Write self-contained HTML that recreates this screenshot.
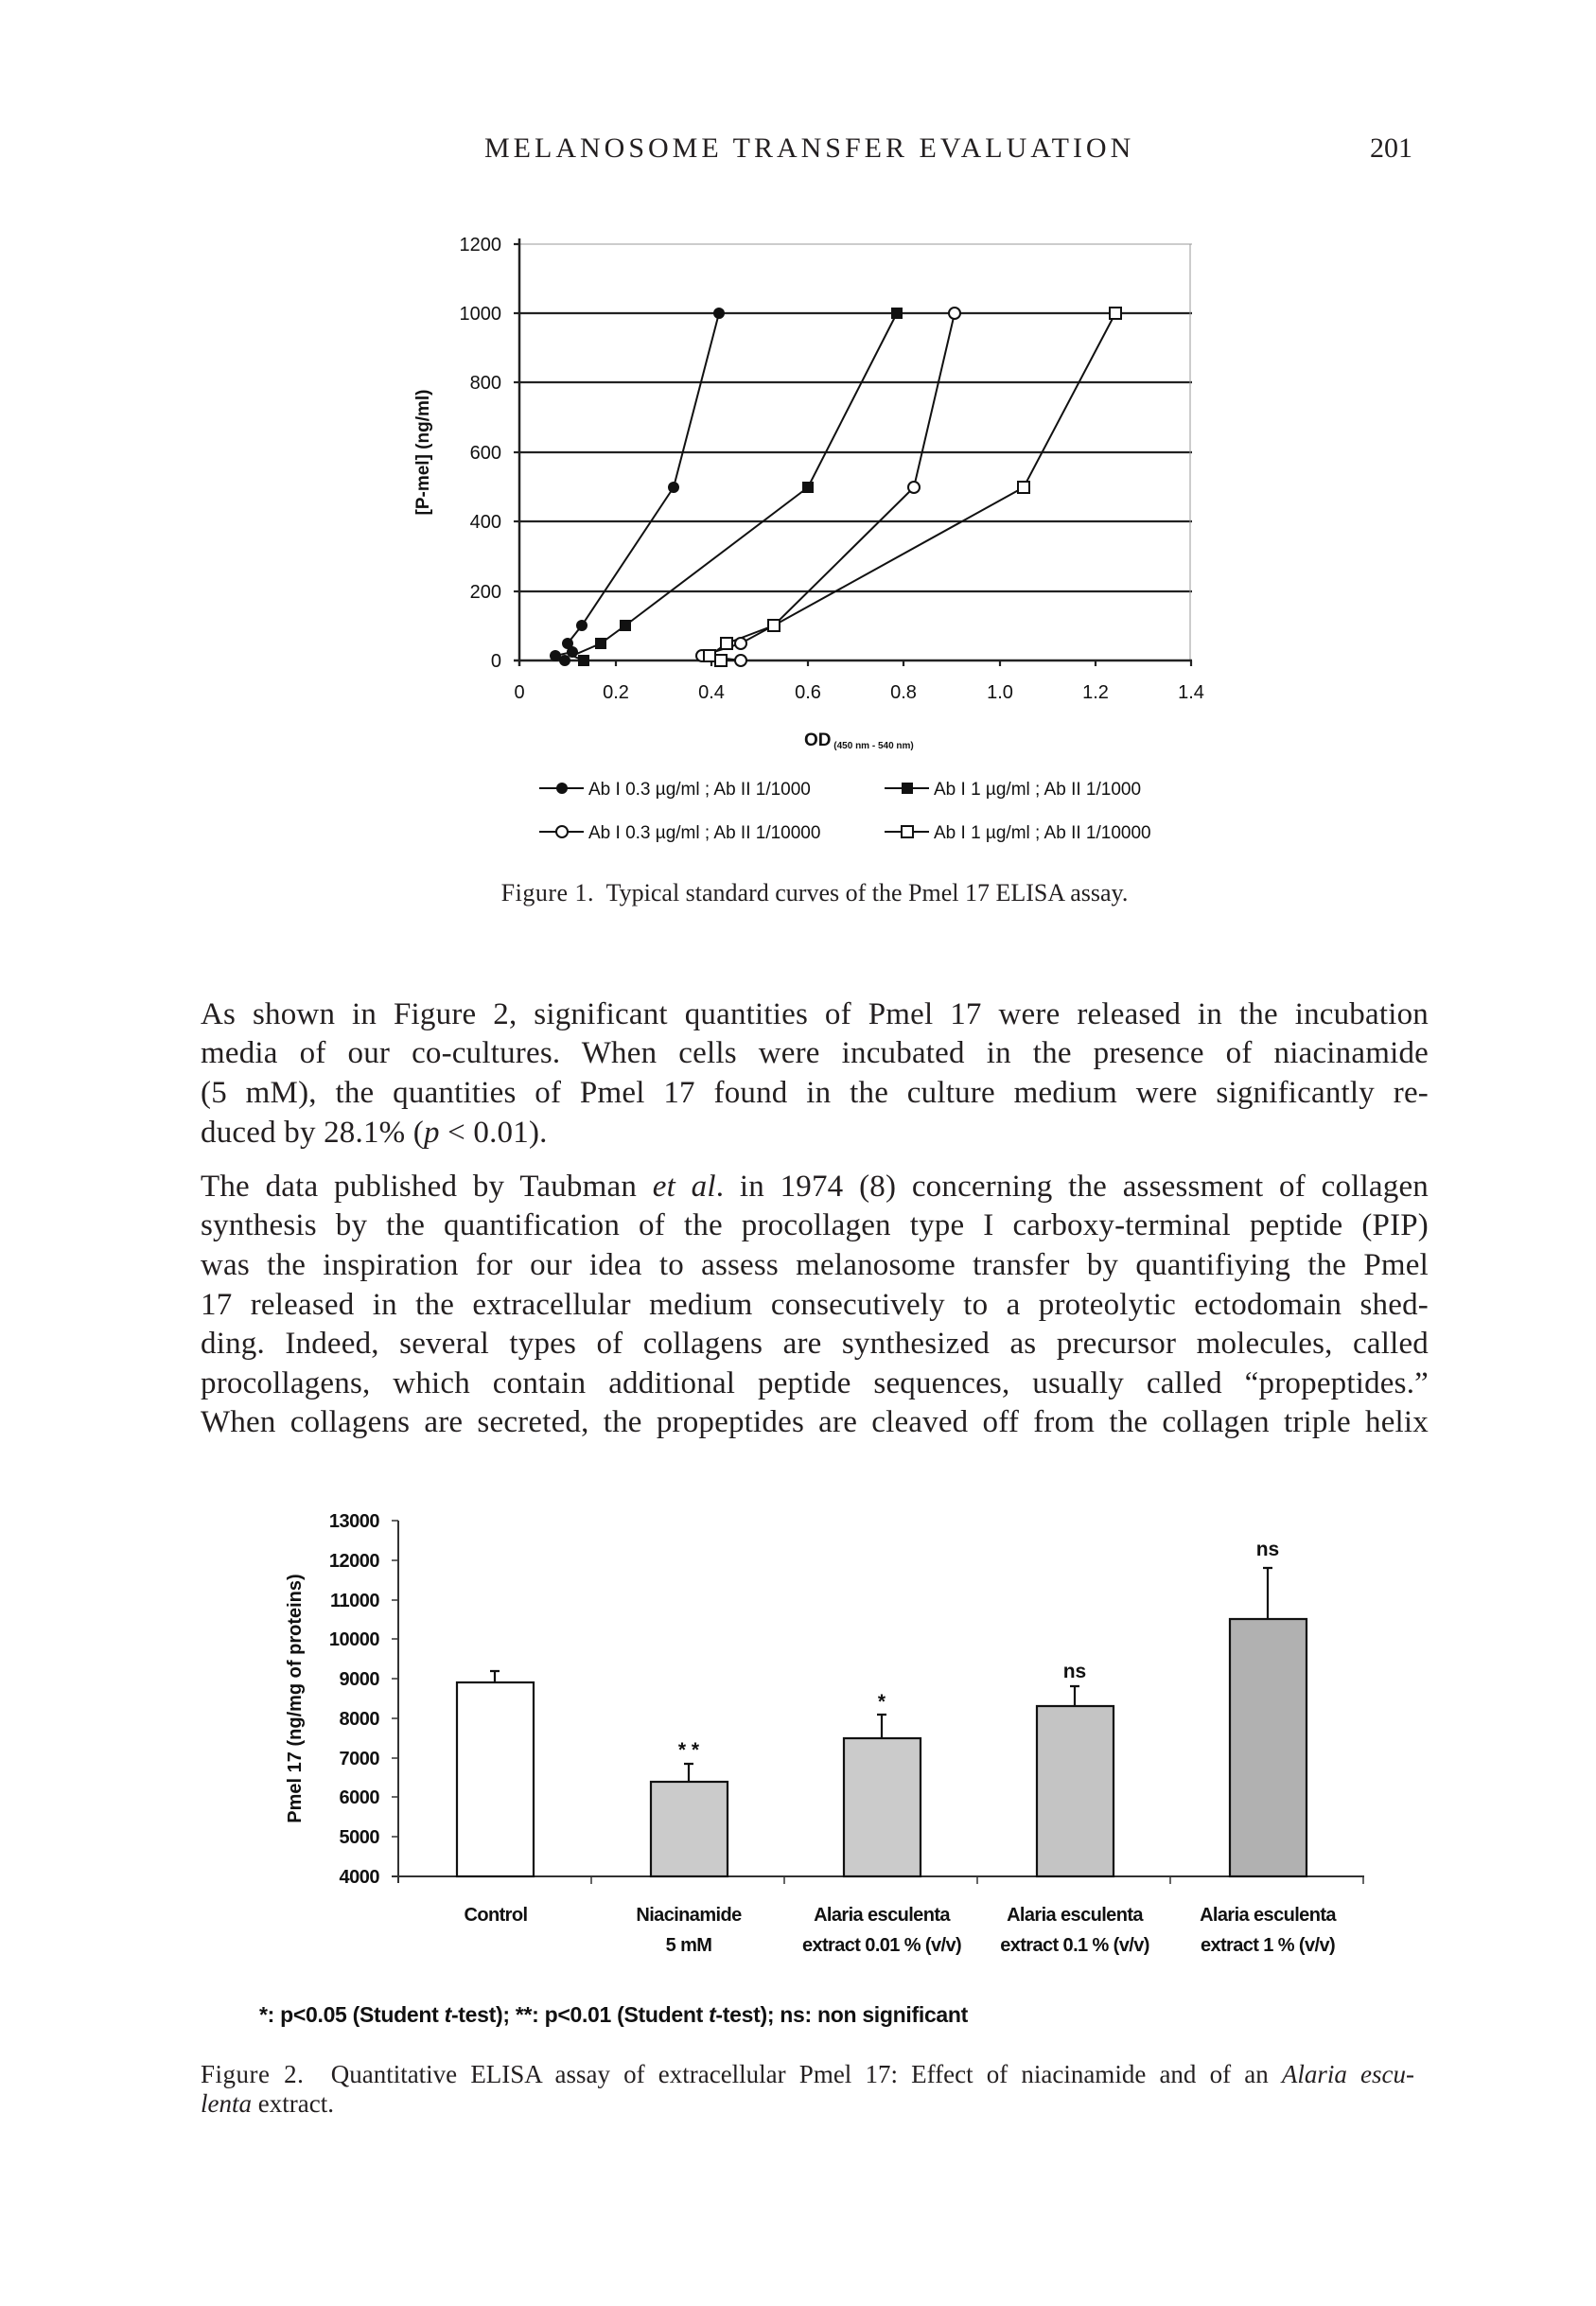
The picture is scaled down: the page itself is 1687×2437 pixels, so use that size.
<!DOCTYPE html>
<html><head><meta charset="utf-8">
<style>
html,body{margin:0;padding:0;background:#fff;}
body{width:1687px;height:2437px;position:relative;overflow:hidden;font-family:"Liberation Serif",serif;color:#231f20;}
.a{position:absolute;white-space:nowrap;}
.ln{position:absolute;left:212px;width:1298px;font-size:33px;line-height:42px;height:42px;text-align:justify;text-align-last:justify;white-space:nowrap;overflow:visible;letter-spacing:0.2px;}
.ln.l{text-align-last:left;}
</style></head><body>

<div class="a" style="left:512px;top:137px;font-size:30px;line-height:40px;letter-spacing:4px;">MELANOSOME TRANSFER EVALUATION</div>
<div class="a" style="left:1448px;top:137px;font-size:30px;line-height:40px;">201</div>

<svg class="a" style="left:0;top:0" width="1687" height="1000" font-family="Liberation Sans, sans-serif">
  <g stroke="#222" stroke-width="2.2">
    <line x1="549" y1="258" x2="1260" y2="258" stroke="#999" stroke-width="1"/>
    <line x1="549" y1="331" x2="1260" y2="331"/>
    <line x1="549" y1="404" x2="1260" y2="404"/>
    <line x1="549" y1="478" x2="1260" y2="478"/>
    <line x1="549" y1="551" x2="1260" y2="551"/>
    <line x1="549" y1="625" x2="1260" y2="625"/>
    <line x1="1258" y1="258" x2="1258" y2="698" stroke="#999" stroke-width="1"/>
    <line x1="549" y1="252" x2="549" y2="704" stroke-width="2.5"/>
    <line x1="543" y1="698" x2="1260" y2="698" stroke-width="2.5"/>
    <line x1="543" y1="258" x2="549" y2="258"/><line x1="543" y1="331" x2="549" y2="331"/><line x1="543" y1="404" x2="549" y2="404"/><line x1="543" y1="478" x2="549" y2="478"/><line x1="543" y1="551" x2="549" y2="551"/><line x1="543" y1="625" x2="549" y2="625"/>
    <line x1="651" y1="698" x2="651" y2="704"/><line x1="752" y1="698" x2="752" y2="704"/><line x1="854" y1="698" x2="854" y2="704"/><line x1="955" y1="698" x2="955" y2="704"/><line x1="1057" y1="698" x2="1057" y2="704"/><line x1="1158" y1="698" x2="1158" y2="704"/><line x1="1259" y1="698" x2="1259" y2="704"/>
  </g>
  <g font-size="20" fill="#111" text-anchor="end">
    <text x="530" y="265">1200</text><text x="530" y="338">1000</text><text x="530" y="411">800</text><text x="530" y="485">600</text><text x="530" y="558">400</text><text x="530" y="632">200</text><text x="530" y="705">0</text>
  </g>
  <g font-size="20" fill="#111" text-anchor="middle">
    <text x="549" y="738">0</text><text x="651" y="738">0.2</text><text x="752" y="738">0.4</text><text x="854" y="738">0.6</text><text x="955" y="738">0.8</text><text x="1057" y="738">1.0</text><text x="1158" y="738">1.2</text><text x="1259" y="738">1.4</text>
  </g>
  <text x="453" y="478" font-size="19" font-weight="bold" fill="#111" text-anchor="middle" transform="rotate(-90 453 478)">[P-mel] (ng/ml)</text>
  <text x="850" y="788" font-size="19" font-weight="bold" fill="#111">OD<tspan font-size="10" dy="3"> (450 nm - 540 nm)</tspan></text>
  <g fill="none" stroke="#111" stroke-width="2">
    <polyline points="597,698 587,693 605,689 600,680 615,661 712,515 760,331"/>
    <polyline points="617,698 605,693 635,680 661,661 854,515 948,331"/>
    <polyline points="783,698 742,693 783,680 818,661 966,515 1009,331"/>
    <polyline points="762,698 750,693 768,680 818,661 1082,515 1179,331"/>
  </g>
  <g fill="#111">
    <circle cx="587" cy="693" r="6"/><circle cx="597" cy="698" r="6"/><circle cx="605" cy="689" r="6"/><circle cx="600" cy="680" r="6"/><circle cx="615" cy="661" r="6"/><circle cx="712" cy="515" r="6"/><circle cx="760" cy="331" r="6"/>
    <rect x="611" y="692" width="12" height="12"/><rect x="629" y="674" width="12" height="12"/><rect x="655" y="655" width="12" height="12"/><rect x="848" y="509" width="12" height="12"/><rect x="942" y="325" width="12" height="12"/>
  </g>
  <g fill="#fff" stroke="#111" stroke-width="2">
    <circle cx="742" cy="693" r="6"/><circle cx="783" cy="698" r="6"/><circle cx="783" cy="680" r="6"/><circle cx="966" cy="515" r="6"/><circle cx="1009" cy="331" r="6"/>
    <rect x="744" y="687" width="12" height="12"/><rect x="756" y="692" width="12" height="12"/><rect x="762" y="674" width="12" height="12"/><rect x="812" y="655" width="12" height="12"/><rect x="1076" y="509" width="12" height="12"/><rect x="1173" y="325" width="12" height="12"/>
  </g>
  <g stroke="#111" stroke-width="2"><line x1="570" y1="833" x2="617" y2="833"/><line x1="570" y1="879" x2="617" y2="879"/><line x1="935" y1="833" x2="982" y2="833"/><line x1="935" y1="879" x2="982" y2="879"/></g>
  <circle cx="594" cy="833" r="6" fill="#111"/>
  <circle cx="594" cy="879" r="6" fill="#fff" stroke="#111" stroke-width="2"/>
  <rect x="953" y="827" width="12" height="12" fill="#111"/>
  <rect x="953" y="873" width="12" height="12" fill="#fff" stroke="#111" stroke-width="2"/>
  <g font-size="19" fill="#111">
    <text x="622" y="840">Ab I 0.3 µg/ml ; Ab II 1/1000</text>
    <text x="622" y="886">Ab I 0.3 µg/ml ; Ab II 1/10000</text>
    <text x="987" y="840">Ab I 1 µg/ml ; Ab II 1/1000</text>
    <text x="987" y="886">Ab I 1 µg/ml ; Ab II 1/10000</text>
  </g>
</svg>

<div class="a" style="left:0;width:1722px;text-align:center;top:928px;font-size:26px;line-height:32px;"><span style="letter-spacing:0.5px">Figure 1.</span>&nbsp; Typical standard curves of the Pmel 17 ELISA assay.</div>

<div class="ln" style="top:1051px">As shown in Figure 2, significant quantities of Pmel 17 were released in the incubation</div>
<div class="ln" style="top:1092px">media of our co-cultures. When cells were incubated in the presence of niacinamide</div>
<div class="ln" style="top:1134px">(5 mM), the quantities of Pmel 17 found in the culture medium were significantly re-</div>
<div class="ln l" style="top:1176px">duced by 28.1% (<i>p</i> &lt; 0.01).</div>
<div class="ln" style="top:1233px">The data published by Taubman <i>et al</i>. in 1974 (8) concerning the assessment of collagen</div>
<div class="ln" style="top:1274px">synthesis by the quantification of the procollagen type I carboxy-terminal peptide (PIP)</div>
<div class="ln" style="top:1316px">was the inspiration for our idea to assess melanosome transfer by quantifiying the Pmel</div>
<div class="ln" style="top:1358px">17 released in the extracellular medium consecutively to a proteolytic ectodomain shed-</div>
<div class="ln" style="top:1399px">ding. Indeed, several types of collagens are synthesized as precursor molecules, called</div>
<div class="ln" style="top:1441px">procollagens, which contain additional peptide sequences, usually called “propeptides.”</div>
<div class="ln" style="top:1482px">When collagens are secreted, the propeptides are cleaved off from the collagen triple helix</div>

<svg class="a" style="left:0;top:1580px" width="1687" height="600" font-family="Liberation Sans, sans-serif">
  <g transform="translate(0,-1580)">
  <g stroke="#333" stroke-width="2">
    <line x1="421" y1="1607" x2="421" y2="1990"/>
    <line x1="414" y1="1983" x2="1442" y2="1983"/>
    <g stroke-width="1.5">
    <line x1="414" y1="1607" x2="421" y2="1607"/><line x1="414" y1="1649" x2="421" y2="1649"/><line x1="414" y1="1691" x2="421" y2="1691"/><line x1="414" y1="1732" x2="421" y2="1732"/><line x1="414" y1="1774" x2="421" y2="1774"/><line x1="414" y1="1816" x2="421" y2="1816"/><line x1="414" y1="1858" x2="421" y2="1858"/><line x1="414" y1="1899" x2="421" y2="1899"/><line x1="414" y1="1941" x2="421" y2="1941"/>
    <line x1="625" y1="1983" x2="625" y2="1991"/><line x1="829" y1="1983" x2="829" y2="1991"/><line x1="1033" y1="1983" x2="1033" y2="1991"/><line x1="1237" y1="1983" x2="1237" y2="1991"/><line x1="1441" y1="1983" x2="1441" y2="1991"/>
    </g>
  </g>
  <g font-size="20" fill="#111" text-anchor="end" font-weight="bold" letter-spacing="-0.5">
    <text x="401" y="1614">13000</text><text x="401" y="1656">12000</text><text x="401" y="1698">11000</text><text x="401" y="1739">10000</text><text x="401" y="1781">9000</text><text x="401" y="1823">8000</text><text x="401" y="1865">7000</text><text x="401" y="1906">6000</text><text x="401" y="1948">5000</text><text x="401" y="1990">4000</text>
  </g>
  <text x="318" y="1795" font-size="20" font-weight="bold" fill="#111" text-anchor="middle" transform="rotate(-90 318 1795)">Pmel 17 (ng/mg of proteins)</text>
  <g stroke="#111" stroke-width="2.2">
    <rect x="483" y="1778" width="81" height="205" fill="#fff"/>
    <rect x="688" y="1883" width="81" height="100" fill="#cbcbcb"/>
    <rect x="892" y="1837" width="81" height="146" fill="#cbcbcb"/>
    <rect x="1096" y="1803" width="81" height="180" fill="#c4c4c4"/>
    <rect x="1300" y="1711" width="81" height="272" fill="#b1b1b1"/>
    <path d="M523 1778V1766M518 1766h10 M728 1883V1864M723 1864h10 M932 1837V1812M927 1812h10 M1136 1803V1782M1131 1782h10 M1340 1711V1657M1335 1657h10" fill="none"/>
  </g>
  <g font-size="21" fill="#111" text-anchor="middle" font-weight="bold">
    <text x="728" y="1856">* *</text><text x="932" y="1805">*</text><text x="1136" y="1773">ns</text><text x="1340" y="1644">ns</text>
  </g>
  <g font-size="20" fill="#111" text-anchor="middle" font-weight="bold" letter-spacing="-0.6">
    <text x="524" y="2030">Control</text>
    <text x="728" y="2030">Niacinamide</text><text x="728" y="2062">5 mM</text>
    <text x="932" y="2030">Alaria esculenta</text><text x="932" y="2062">extract 0.01 % (v/v)</text>
    <text x="1136" y="2030">Alaria esculenta</text><text x="1136" y="2062">extract 0.1 % (v/v)</text>
    <text x="1340" y="2030">Alaria esculenta</text><text x="1340" y="2062">extract 1 % (v/v)</text>
  </g>
  <text x="274" y="2137" font-size="23" font-weight="bold" fill="#111" letter-spacing="-0.3">*: p&lt;0.05 (Student <tspan font-style="italic">t</tspan>-test); **: p&lt;0.01 (Student <tspan font-style="italic">t</tspan>-test); ns: non significant</text>
  </g>
</svg>

<div class="a" style="left:212px;top:2176px;width:1283px;font-size:27px;line-height:32px;text-align:justify;text-align-last:justify;"><span style="letter-spacing:0.5px">Figure 2.</span>&nbsp; Quantitative ELISA assay of extracellular Pmel 17: Effect of niacinamide and of an <i>Alaria escu-</i></div>
<div class="a" style="left:212px;top:2207px;font-size:27px;line-height:32px;"><i>lenta</i> extract.</div>

</body></html>
